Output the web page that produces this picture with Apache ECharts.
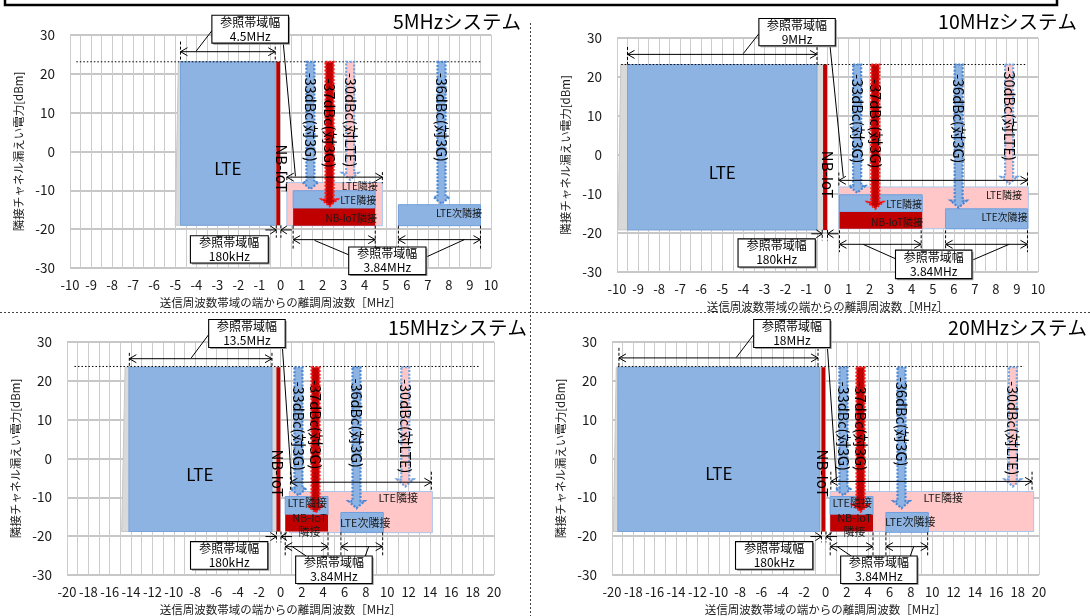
<!DOCTYPE html>
<html><head><meta charset="utf-8">
<script src="https://cdn.jsdelivr.net/npm/echarts@6.0.0/dist/echarts.min.js"></script>
<style>html,body{margin:0;padding:0;background:#fff}#c{width:1090px;height:616px}</style>
</head><body><div id="c"></div>
<script>
const FONT = "'Noto Sans CJK JP', 'Noto Sans', sans-serif";

// ---- data ----
const panelTitles = ['5MHzシステム', '10MHzシステム', '15MHzシステム', '20MHzシステム'];
const xMin = [-10, -10, -20, -20];
const xMax = [10, 10, 20, 20];
const xStep = [1, 1, 2, 2];
const yMin = -30, yMax = 30, yStep = 10;
const xName = '送信周波数帯域の端からの離調周波数［MHz］';
const yName = '隣接チャネル漏えい電力[dBm]';

// [x bottom-left, x top-left, x right, y bottom, y top]
const grayShape = [
  [-5.0, -4.85, 0, -19.0, 23.1],
  [-9.95, -9.82, 0, -19.2, 23.2],
  [-14.88, -14.56, 0, -18.8, 23.5],
  [-19.87, -19.6, 0, -18.8, 23.5]];
// [x0, x1, y0, y1]
const lteBand = [
  [-4.75, -0.25, -19.0, 23.1],
  [-9.5, -0.5, -19.2, 23.2],
  [-14.2, -0.8, -18.8, 23.5],
  [-19.45, -0.55, -18.8, 23.5]];
const nbBand = [
  [-0.2, -0.02, -19.0, 23.1],
  [-0.21, -0.02, -19.2, 23.2],
  [-0.38, -0.02, -18.8, 23.5],
  [-0.38, -0.02, -18.8, 23.5]];
const lteAdjBand = [
  [0.3, 4.84, -19.1, -8.0],
  [0.54, 9.54, -18.9, -8.2],
  [0.83, 14.23, -19.1, -8.5],
  [0.44, 19.5, -18.8, -8.5]];
const utraAdjBand = [
  [0.6, 4.5, -14.7, -10.1],
  [0.57, 4.5, -14.6, -10.2],
  [0.44, 4.45, -14.5, -9.8],
  [0.44, 4.45, -14.5, -9.8]];
const nbAdjBand = [
  [0.6, 4.5, -19.1, -14.7],
  [0.57, 4.5, -18.9, -14.6],
  [0.44, 4.45, -18.8, -14.5],
  [0.44, 4.45, -18.8, -14.5]];
const utraAdj2Band = [
  [5.6, 9.5, -19.1, -13.7],
  [5.61, 9.5, -18.9, -13.8],
  [5.66, 9.63, -19.0, -13.9],
  [5.66, 9.63, -19.0, -13.9]];
// [x0, x1, y]
const refLevel = [
  [[-9.7, 9.5, 23.1]],
  [[-9.8, 9.45, 23.2]],
  [[-19.3, 18.7, 23.7]],
  [[-19.45, 18.6, 23.7]]];
// [x, y top, y tip, kind(0 blue,1 red,2 pink), label y]
const dbcArrows = [
  [[1.42, 23.1, -9.7, 0, 8.8], [2.33, 23.1, -14.1, 1, 7.3], [3.31, 23.1, -7.3, 2, 8.1], [7.65, 23.1, -13.5, 0, 8.8]],
  [[1.41, 23.2, -9.7, 0, 9.3], [2.27, 23.2, -13.8, 1, 8.0], [6.23, 23.2, -13.5, 0, 9.3], [8.63, 23.2, -7.4, 2, 10.6]],
  [[1.68, 23.5, -9.5, 0, 8.3], [3.28, 23.5, -13.9, 1, 8.7], [7.12, 23.5, -12.8, 0, 9.1], [11.69, 23.5, -7.2, 2, 8.3]],
  [[1.68, 23.5, -9.5, 0, 8.3], [3.28, 23.5, -13.7, 1, 8.3], [7.12, 23.5, -12.8, 0, 9.5], [17.55, 23.5, -7.2, 2, 7.8]]];
const dbcLabels = [
  ['-33dBc(対3G)', '-37dBc(対3G)', '-30dBc(対LTE)', '-36dBc(対3G)'],
  ['-33dBc(対3G)', '-37dBc(対3G)', '-36dBc(対3G)', '-30dBc(対LTE)'],
  ['-33dBc(対3G)', '-37dBc(対3G)', '-36dBc(対3G)', '-30dBc(対LTE)'],
  ['-33dBc(対3G)', '-37dBc(対3G)', '-36dBc(対3G)', '-30dBc(対LTE)']];
// [x, y, font size, rotated]
const blockLabelPos = [
  [[-2.5, -4.3, 17, 0], [0.05, -4.3, 15, 1], [3.77, -8.9, 10, 0], [3.69, -12.5, 10, 0], [3.36, -17.2, 10, 0], [8.48, -15.9, 10, 0]],
  [[-5.0, -4.4, 17, 0], [0.0, -5.0, 15, 1], [8.38, -10.2, 10, 0], [3.64, -12.5, 10, 0], [3.31, -17.2, 10, 0], [8.41, -16.0, 10, 0]],
  [[-7.55, -4.2, 17, 0], [-0.3, -3.8, 15, 1], [11.03, -10.0, 11, 0], [2.5, -11.5, 11, 0], [2.72, -17.0, 11, 0], [7.94, -16.5, 11, 0]],
  [[-9.99, -3.8, 17, 0], [-0.3, -3.8, 15, 1], [11.03, -10.0, 11, 0], [2.5, -11.4, 11, 0], [2.72, -17.0, 11, 0], [7.94, -16.4, 11, 0]]];
const blockLabelText = [
  ['LTE', 'NB-IoT', 'LTE隣接', 'LTE隣接', 'NB-IoT隣接', 'LTE次隣接'],
  ['LTE', 'NB-IoT', 'LTE隣接', 'LTE隣接', 'NB-IoT隣接', 'LTE次隣接'],
  ['LTE', 'NB-IoT', 'LTE隣接', 'LTE隣接', 'NB-IoT\n隣接', 'LTE次隣接'],
  ['LTE', 'NB-IoT', 'LTE隣接', 'LTE隣接', 'NB-IoT\n隣接', 'LTE次隣接']];
// [x0, x1, y, ext top, ext bottom]
const refDims = [
  [[-4.75, -0.25, 25.7, 28.3, 23.1], [0.3, 4.84, -6.6, -5.3, -8.2], [0.6, 4.5, -22.7, -19.1, -25.0], [5.6, 9.5, -22.7, -19.1, -25.0]],
  [[-9.5, -0.5, 25.8, 27.7, 23.2], [0.54, 9.5, -6.5, -4.5, -8.2], [0.57, 4.45, -22.9, -19.3, -24.9], [5.61, 9.5, -22.9, -19.3, -24.9]],
  [[-14.16, -0.8, 25.7, 27.2, 23.5], [0.93, 14.13, -6.1, -3.4, -8.5], [0.44, 4.45, -22.7, -19.0, -25.0], [5.66, 9.57, -22.7, -19.0, -25.0]],
  [[-19.35, -0.7, 25.9, 28.5, 23.5], [0.5, 19.35, -5.9, -3.4, -8.5], [0.44, 4.45, -22.7, -19.0, -25.0], [5.66, 9.57, -22.7, -19.0, -25.0]]];
const nbDims = [
  [[-0.2, 0.02, -20.2, -19.0, -22.2]],
  [[-0.25, 0.0, -20.2, -19.2, -21.9]],
  [[-0.38, 0.05, -20.1, -18.8, -21.6]],
  [[-0.38, 0.05, -20.1, -18.8, -21.6]]];
// [x0, x1, y top, y bottom]
const refBoxes = [
  [[-3.26, 0.38, 35.1, 27.9], [-4.28, -0.58, -21.7, -28.7], [3.24, 6.91, -24.6, -31.7]],
  [[-3.26, 0.37, 35.0, 28.0], [-4.25, -0.58, -21.5, -28.7], [3.23, 6.86, -24.4, -31.7]],
  [[-6.73, 0.44, 35.8, 28.6], [-8.43, -1.19, -21.4, -28.5], [1.42, 8.59, -25.1, -32.2]],
  [[-6.73, 0.44, 35.8, 28.6], [-8.43, -1.19, -21.4, -28.5], [1.42, 8.59, -25.1, -32.2]]];
const refBoxText = [
  ['参照帯域幅\n4.5MHz', '参照帯域幅\n180kHz', '参照帯域幅\n3.84MHz'],
  ['参照帯域幅\n9MHz', '参照帯域幅\n180kHz', '参照帯域幅\n3.84MHz'],
  ['参照帯域幅\n13.5MHz', '参照帯域幅\n180kHz', '参照帯域幅\n3.84MHz'],
  ['参照帯域幅\n18MHz', '参照帯域幅\n180kHz', '参照帯域幅\n3.84MHz']];
// [x0, y0, x1, y1]
const leaders = [
  [[-3.26, 31.1, -4.0, 25.9], [0.13, 28.0, 0.71, -6.4], [3.24, -26.6, 1.62, -22.9], [6.91, -27.2, 8.73, -22.7]],
  [[-3.26, 31.1, -4.0, 26.0], [0.12, 28.0, 0.75, -5.6], [3.23, -26.6, 1.69, -22.9], [6.86, -27.0, 8.63, -22.9]],
  [[-6.73, 31.9, -8.36, 25.9], [0.18, 28.6, 1.03, -5.9], [2.4, -25.1, 1.1, -22.7], [7.94, -25.1, 8.26, -22.7]],
  [[-6.73, 31.9, -8.36, 26.0], [0.18, 28.6, 1.03, -5.9], [2.4, -25.1, 1.1, -22.7], [7.94, -25.1, 8.26, -22.7]]];

// ---- layout / style ----
const grids = [
  {left: 70, top: 35, width: 421, height: 233},
  {left: 617, top: 38, width: 421, height: 234},
  {left: 67, top: 342, width: 427, height: 233},
  {left: 612, top: 342, width: 427, height: 233}];
const titlePos = [[521, 22], [1077, 22], [527, 328], [1087, 328]];
const arrowStyles = [
  {fill: '#8db3e2', stroke: '#4a86d4'},
  {fill: '#c00000', stroke: '#ff1a1a'},
  {fill: '#ffc7c7', stroke: '#6fa2e0'}];

function mk(i, data, z, render) {
  return {type: 'custom', xAxisIndex: i, yAxisIndex: i, clip: false, silent: true,
    animation: false, z: z, data: data, renderItem: render};
}
function rectRender(style) {
  return function (p, api) {
    const a = api.coord([api.value(0), api.value(3)]);
    const b = api.coord([api.value(1), api.value(2)]);
    return {type: 'rect', shape: {x: a[0], y: a[1], width: b[0] - a[0], height: b[1] - a[1]}, style: style};
  };
}
const BL = '#000';

function panelSeries(i) {
  const s = [];
  s.push(mk(i, [grayShape[i]], 1, function (p, api) {
    const v = k => api.value(k);
    const pts = [api.coord([v(0), v(3)]), api.coord([v(1), v(4)]), api.coord([v(2), v(4)]), api.coord([v(2), v(3)])];
    return {type: 'polygon', shape: {points: pts}, style: {fill: '#d9d9d9', stroke: '#c8c8c8', lineWidth: 1}};
  }));
  s.push(mk(i, [lteBand[i]], 2, rectRender({fill: '#8db3e2', stroke: '#79a4da', lineWidth: 1})));
  s.push(mk(i, [nbBand[i]], 3, rectRender({fill: '#c00000'})));
  s.push(mk(i, [lteAdjBand[i]], 2, rectRender({fill: '#ffc7c7', stroke: '#a9c6ec', lineWidth: 1})));
  s.push(mk(i, [utraAdjBand[i]], 3, rectRender({fill: '#8db3e2', stroke: '#6f9fdc', lineWidth: 1})));
  s.push(mk(i, [nbAdjBand[i]], 3, rectRender({fill: '#c00000'})));
  s.push(mk(i, [utraAdj2Band[i]], 3, rectRender({fill: '#8db3e2', stroke: '#6f9fdc', lineWidth: 1})));
  s.push(mk(i, refLevel[i], 4, function (p, api) {
    const a = api.coord([api.value(0), api.value(2)]), b = api.coord([api.value(1), api.value(2)]);
    return {type: 'line', shape: {x1: a[0], y1: a[1], x2: b[0], y2: b[1]}, style: {stroke: BL, lineWidth: 1, lineDash: [1.5, 2]}};
  }));
  s.push(mk(i, dbcArrows[i], 5, function (p, api) {
    const x = api.value(0), kind = api.value(3);
    const a = api.coord([x, api.value(1)]), b = api.coord([x, api.value(2)]), c = api.coord([x, api.value(4)]);
    const cx = a[0], w = 4, hw = 8, hh = 7;
    const pts = [[cx - w, a[1]], [cx + w, a[1]], [cx + w, b[1] - hh], [cx + hw, b[1] - hh], [cx, b[1]], [cx - hw, b[1] - hh], [cx - w, b[1] - hh]];
    const st = arrowStyles[kind];
    return {type: 'group', children: [
      {type: 'polygon', shape: {points: pts}, style: {fill: st.fill, stroke: st.stroke, lineWidth: 2.2, lineDash: [2, 1.6]}},
      {type: 'text', x: cx, y: c[1], rotation: -Math.PI / 2,
        style: {text: dbcLabels[i][p.dataIndex], fontSize: 14.5, fontFamily: FONT, fill: '#000', align: 'center', verticalAlign: 'middle'}}
    ]};
  }));
  s.push(mk(i, blockLabelPos[i], 6, function (p, api) {
    const c = api.coord([api.value(0), api.value(1)]);
    const size = api.value(2), rot = api.value(3);
    return {type: 'text', x: c[0], y: c[1], rotation: rot ? -Math.PI / 2 : 0,
      style: {text: blockLabelText[i][p.dataIndex], fontSize: size, lineHeight: size + 3, fontFamily: FONT,
        fill: size >= 14 ? '#000' : '#1a1a1a', align: 'center', verticalAlign: 'middle'}};
  }));
  s.push(mk(i, refDims[i], 6, function (p, api) {
    const x0 = api.value(0), x1 = api.value(1), y = api.value(2), e0 = api.value(3), e1 = api.value(4);
    const a = api.coord([x0, y]), b = api.coord([x1, y]);
    const t0 = api.coord([x0, e0]), u0 = api.coord([x0, e1]), t1 = api.coord([x1, e0]), u1 = api.coord([x1, e1]);
    const ls = {stroke: BL, lineWidth: 1, fill: 'none'};
    return {type: 'group', children: [
      {type: 'line', shape: {x1: a[0], y1: a[1], x2: b[0], y2: b[1]}, style: ls},
      {type: 'polyline', shape: {points: [[a[0] + 7, a[1] - 4], [a[0], a[1]], [a[0] + 7, a[1] + 4]]}, style: ls},
      {type: 'polyline', shape: {points: [[b[0] - 7, b[1] - 4], [b[0], b[1]], [b[0] - 7, b[1] + 4]]}, style: ls},
      {type: 'line', shape: {x1: t0[0], y1: t0[1], x2: u0[0], y2: u0[1]}, style: {stroke: BL, lineWidth: 1, lineDash: [3, 2]}},
      {type: 'line', shape: {x1: t1[0], y1: t1[1], x2: u1[0], y2: u1[1]}, style: {stroke: BL, lineWidth: 1, lineDash: [3, 2]}}
    ]};
  }));
  s.push(mk(i, nbDims[i], 6, function (p, api) {
    const x0 = api.value(0), x1 = api.value(1), y = api.value(2), e0 = api.value(3), e1 = api.value(4);
    const a = api.coord([x0, y]), b = api.coord([x1, y]);
    const t0 = api.coord([x0, e0]), u0 = api.coord([x0, e1]), t1 = api.coord([x1, e0]), u1 = api.coord([x1, e1]);
    const ls = {stroke: BL, lineWidth: 1, fill: 'none'};
    return {type: 'group', children: [
      {type: 'line', shape: {x1: a[0] - 11, y1: a[1], x2: a[0], y2: a[1]}, style: ls},
      {type: 'polyline', shape: {points: [[a[0] - 6, a[1] - 4], [a[0], a[1]], [a[0] - 6, a[1] + 4]]}, style: ls},
      {type: 'line', shape: {x1: b[0] + 11, y1: b[1], x2: b[0], y2: b[1]}, style: ls},
      {type: 'polyline', shape: {points: [[b[0] + 6, b[1] - 4], [b[0], b[1]], [b[0] + 6, b[1] + 4]]}, style: ls},
      {type: 'line', shape: {x1: t0[0], y1: t0[1], x2: u0[0], y2: u0[1]}, style: {stroke: BL, lineWidth: 1, lineDash: [3, 2]}},
      {type: 'line', shape: {x1: t1[0], y1: t1[1], x2: u1[0], y2: u1[1]}, style: {stroke: BL, lineWidth: 1, lineDash: [3, 2]}}
    ]};
  }));
  s.push(mk(i, leaders[i], 7, function (p, api) {
    const a = api.coord([api.value(0), api.value(1)]), b = api.coord([api.value(2), api.value(3)]);
    return {type: 'line', shape: {x1: a[0], y1: a[1], x2: b[0], y2: b[1]}, style: {stroke: BL, lineWidth: 1}};
  }));
  s.push(mk(i, refBoxes[i], 8, function (p, api) {
    const a = api.coord([api.value(0), api.value(2)]), b = api.coord([api.value(1), api.value(3)]);
    return {type: 'group', children: [
      {type: 'rect', shape: {x: a[0] + 1.5, y: a[1] + 1.5, width: b[0] - a[0], height: b[1] - a[1]}, style: {fill: '#9a9a9a'}},
      {type: 'rect', shape: {x: a[0], y: a[1], width: b[0] - a[0], height: b[1] - a[1]}, style: {fill: '#fff', stroke: BL, lineWidth: 1.1}},
      {type: 'text', x: (a[0] + b[0]) / 2, y: (a[1] + b[1]) / 2,
        style: {text: refBoxText[i][p.dataIndex], fontSize: 12, lineHeight: 14, fontFamily: FONT, fill: '#000', align: 'center', verticalAlign: 'middle'}}
    ]};
  }));
  return s;
}

const option = {
  animation: false,
  backgroundColor: '#fff',
  textStyle: {fontFamily: FONT},
  grid: grids.map(g => Object.assign({outerBoundsMode: 'none', containLabel: false}, g)),
  xAxis: grids.map((g, i) => ({
    gridIndex: i, type: 'value', min: xMin[i], max: xMax[i], interval: xStep[i],
    axisLine: {show: false}, axisTick: {show: false},
    axisLabel: {fontSize: 13, color: '#1a1a1a', margin: 11, fontFamily: FONT, showMinLabel: true, showMaxLabel: true},
    splitLine: {show: true, lineStyle: {color: '#cccccc', width: 1}},
    minorTick: {show: false, splitNumber: 2},
    minorSplitLine: {show: true, lineStyle: {color: '#cccccc', width: 1}},
    name: xName, nameLocation: 'middle', nameGap: 29,
    nameTextStyle: {fontSize: 11.5, color: '#222', fontFamily: FONT}
  })),
  yAxis: grids.map((g, i) => ({
    gridIndex: i, type: 'value', min: yMin, max: yMax, interval: yStep,
    axisLine: {show: false}, axisTick: {show: false},
    axisLabel: {fontSize: 13.5, color: '#1a1a1a', margin: 15, fontFamily: FONT},
    splitLine: {show: true, lineStyle: {color: '#b5b5b5', width: 1.5}},
    name: yName, nameLocation: 'middle', nameGap: 46,
    nameTextStyle: {fontSize: 11.5, color: '#222', fontFamily: FONT}
  })),
  series: [].concat(panelSeries(0), panelSeries(1), panelSeries(2), panelSeries(3)),
  graphic: [
    {type: 'rect', shape: {x: 5, y: -20, width: 1052, height: 25}, style: {fill: 'none', stroke: '#000', lineWidth: 2.5}, z: 100},
    {type: 'line', shape: {x1: 530.5, y1: 23, x2: 530.5, y2: 616}, style: {stroke: '#444', lineWidth: 1, lineDash: [2, 2]}, z: 100},
    {type: 'line', shape: {x1: 0, y1: 312.5, x2: 1090, y2: 312.5}, style: {stroke: '#444', lineWidth: 1, lineDash: [2, 2]}, z: 100}
  ].concat(panelTitles.map((t, i) => ({
    type: 'text', x: titlePos[i][0], y: titlePos[i][1], z: 100,
    style: {text: t, font: '19.5px "Noto Sans CJK JP", "Noto Sans", sans-serif', fill: '#000', align: 'right', verticalAlign: 'middle'}
  })))
};

const chart = echarts.init(document.getElementById('c'), null, {renderer: 'canvas'});
chart.setOption(option);
</script>
</body></html>
